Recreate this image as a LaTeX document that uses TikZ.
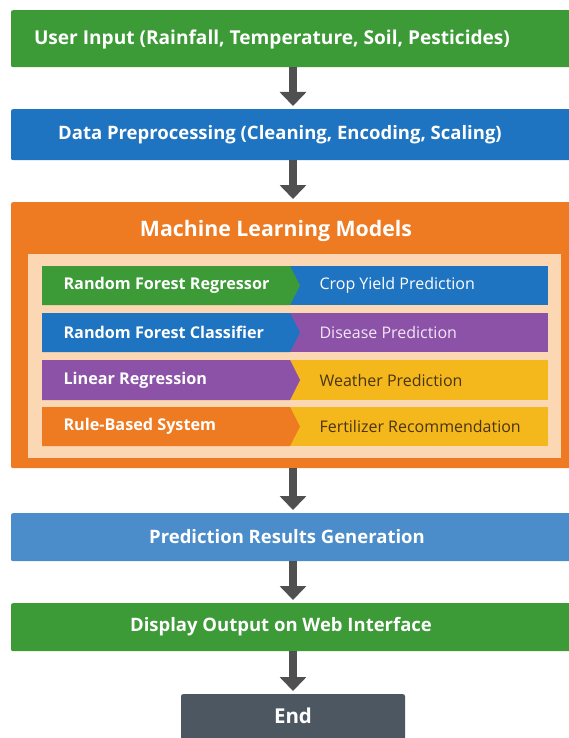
\documentclass[tikz,border=0pt]{standalone}
\usepackage{fontspec}
\setmainfont{Open Sans}
\usetikzlibrary{arrows.meta}
\definecolor{cgreen}{HTML}{3C9A37}
\definecolor{cblue}{HTML}{1F74C1}
\definecolor{corange}{HTML}{EE7A22}
\definecolor{cpeach}{HTML}{FCD7B4}
\definecolor{cpurple}{HTML}{8C52A8}
\definecolor{cyellow}{HTML}{F4B81C}
\definecolor{clblue}{HTML}{4B8DCB}
\definecolor{cdark}{HTML}{4D5761}
\definecolor{arrowgray}{HTML}{505050}
\definecolor{darktxt}{HTML}{4A3510}
\definecolor{lavtxt}{HTML}{F3E6F7}
\begin{document}
\begin{tikzpicture}[x=1pt,y=-1pt,
  box/.style={rectangle, rounded corners=2pt, minimum width=564pt, anchor=north, inner sep=0pt},
  lbl/.style={text=white, font=\bfseries\fontsize{18.5}{22}\selectfont},
  arr/.style={draw=arrowgray, line width=8pt, shorten >=3pt, -{Triangle[width=26pt,length=14pt]}},
  rowleft/.style={anchor=west, text=white, font=\bfseries\fontsize{16.2}{18}\selectfont},
  rowright/.style={anchor=west, font=\fontsize{16}{18}\selectfont},
  rightbox/.style={rectangle, anchor=north west, minimum width=263pt, minimum height=39pt, inner sep=0pt}
]
\useasboundingbox (0,0) rectangle (569,738);
\fill[white] (0,0) rectangle (569,738);
\begin{scope}
\clip (0,0) rectangle (569,738);
% top boxes
\node[box, fill=cgreen, minimum height=57pt] (b1) at (293,10) {};
\node[lbl, font=\bfseries\fontsize{19.1}{22}\selectfont] (t1) at (272,39) {User Input (Rainfall, Temperature, Soil, Pesticides)};
\node[box, fill=cblue, minimum height=51pt] (b2) at (293,109) {};
\node[lbl] (t2) at (280,135) {Data Preprocessing (Cleaning, Encoding, Scaling)};
% ML models container
\node[box, fill=corange, minimum height=266pt] (b3) at (293,202) {};
\node[text=white, font=\bfseries\fontsize{21.3}{24}\selectfont] (t3) at (276,231) {Machine Learning Models};
\node[rectangle, fill=cpeach, minimum width=533pt, minimum height=204pt, anchor=north west, inner sep=0pt] (pe) at (28,254) {};
% row 1
\node[rightbox, fill=cblue] (r1b) at (285,266) {};
\fill[cgreen] (42,266) -- (290,266) -- (300,285.5) -- (290,305) -- (42,305) -- cycle;
\node[rowleft] (r1l) at (60,285.5) {Random Forest Regressor};
\node[rowright, text=white] (r1r) at (316,285.5) {Crop Yield Prediction};
% row 2
\node[rightbox, fill=cpurple] (r2b) at (285,313) {};
\fill[cblue] (42,313) -- (290,313) -- (300,332.5) -- (290,352) -- (42,352) -- cycle;
\node[rowleft] (r2l) at (60,332.5) {Random Forest Classifier};
\node[rowright, text=lavtxt] (r2r) at (316,332.5) {Disease Prediction};
% row 3
\node[rightbox, fill=cyellow, minimum height=40pt] (r3b) at (285,360) {};
\fill[cpurple] (42,360) -- (290,360) -- (300,380) -- (290,400) -- (42,400) -- cycle;
\node[rowleft] (r3l) at (60,380) {Linear Regression};
\node[rowright, text=darktxt] (r3r) at (316,380) {Weather Prediction};
% row 4
\node[rightbox, fill=cyellow] (r4b) at (285,407) {};
\fill[corange] (42,407) -- (290,407) -- (300,426.5) -- (290,446) -- (42,446) -- cycle;
\node[rowleft] (r4l) at (60,426.5) {Rule-Based System};
\node[rowright, text=darktxt] (r4r) at (316,426.5) {Fertilizer Recommendation};
% lower boxes
\node[box, fill=clblue, minimum height=48pt] (b4) at (293,513) {};
\node[lbl] (t4) at (287,537) {Prediction Results Generation};
\node[box, fill=cgreen, minimum height=48pt] (b5) at (293,603) {};
\node[lbl] (t5) at (281,627) {Display Output on Web Interface};
\node[rectangle, rounded corners=2pt, fill=cdark, minimum width=224pt, minimum height=50pt, anchor=north, inner sep=0pt] (e) at (293,694) {};
\node[text=white, font=\bfseries\fontsize{20.5}{24}\selectfont] (te) at (293,716) {End};
% arrows
\draw[arr] (b1.south) -- (b2.north);
\draw[arr] (b2.south) -- (b3.north);
\draw[arr] (b3.south) -- (b4.north);
\draw[arr] (b4.south) -- (b5.north);
\draw[arr] (b5.south) -- (e.north);
\end{scope}
\end{tikzpicture}
\end{document}
